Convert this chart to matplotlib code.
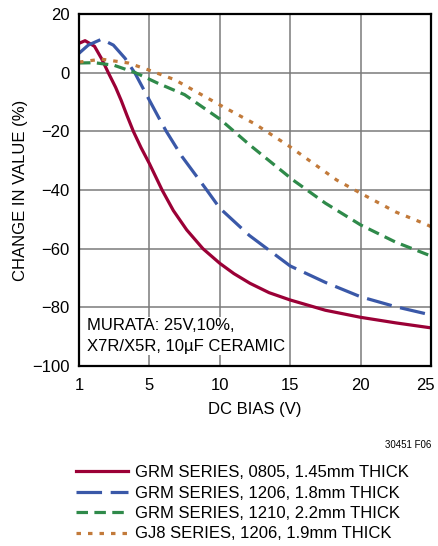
import matplotlib
matplotlib.use('Agg')
import matplotlib.pyplot as plt
import matplotlib.transforms as mtransforms

plt.rcParams['font.family'] = ['Liberation Sans Narrow', 'Liberation Sans', 'DejaVu Sans']

# values (x in volts along the axis, y in %)
red_x = [0, 0.43, 1.1, 1.6, 2.1, 2.6, 3.0, 3.4, 3.86, 4.4, 5.0, 5.9, 6.7, 7.65, 8.8, 10, 11, 12.14, 13.5, 15, 17.5, 20, 22.5, 25]
red_y = [10, 10.9, 9, 4.8, -0.2, -5, -9.5, -14.5, -20, -25.5, -31, -40, -47, -53.6, -60, -65, -68.5, -71.8, -75, -77.5, -81, -83.4, -85.3, -87]

blue_x = [0, 0.66, 1.6, 2.44, 3.27, 3.98, 4.8, 5.75, 6.2, 7.3, 9.07, 10, 12.1, 15, 17.5, 20, 22.5, 25]
blue_y = [6.6, 9.4, 11.4, 9.4, 4.9, -0.2, -7.6, -16.1, -20, -28.5, -40, -46.2, -55.5, -65.9, -71.5, -76.4, -79.8, -82.6]

green_x = [0, 1.1, 2.5, 4.0, 5.6, 7.5, 10, 12.14, 15.2, 17.5, 20, 22.5, 25]
green_y = [3.3, 3.4, 2.5, 0, -3.6, -7.5, -15.8, -24.7, -36.6, -44.5, -51.9, -57.8, -62.5]

orange_x = [0, 1.6, 3.5, 4.9, 6.8, 10, 12.5, 15, 18.3, 20, 22.5, 24.6, 25]
orange_y = [3.6, 4.6, 3.3, 1.0, -2.4, -11, -17.5, -25.3, -36.6, -41.1, -47.5, -51.6, -52.5]

labels = ['GRM SERIES, 0805, 1.45mm THICK',
          'GRM SERIES, 1206, 1.8mm THICK',
          'GRM SERIES, 1210, 2.2mm THICK',
          'GJ8 SERIES, 1206, 1.9mm THICK']

xticks = [0, 5, 10, 15, 20, 25]
xticklabels = ['1', '5', '10', '15', '20', '25']
yticks = [20, 0, -20, -40, -60, -80, -100]

fig = plt.figure(figsize=(4.38, 5.46), dpi=100)
ax = fig.add_axes([79/438, 1-366/546, 352/438, 352/546])

lw = 2.3
ax.plot(red_x, red_y, color='#9b0036', lw=lw, label=labels[0])
ax.plot(blue_x, blue_y, color='#3a58a8', lw=lw, dashes=(8, 2.7), label=labels[1])
ax.plot(green_x, green_y, color='#2f8a4a', lw=lw, dashes=(3.6, 2.0), label=labels[2])
ax.plot(orange_x, orange_y, color='#c27a3a', lw=lw, dashes=(1.4, 2.2), label=labels[3])

ax.set_xlim(0, 25)
ax.set_ylim(-100, 20)
ax.set_xticks(xticks)
ax.set_xticklabels(xticklabels)
ax.set_yticks(yticks)
ax.set_yticklabels([str(v).replace('-', '\u2212') for v in yticks])
ax.tick_params(length=0, labelsize=12)
ax.tick_params(axis='y', pad=7)
ax.tick_params(axis='x', pad=9)
ax.grid(True, color='#7a7a7a', lw=1.1)
for s in ax.spines.values():
    s.set_linewidth(1.6)
    s.set_color('black')

# last x label sits against the right edge, pull it in a little
last = ax.get_xticklabels()[-1]
last.set_transform(last.get_transform() + mtransforms.ScaledTranslation(-6/100, 0, fig.dpi_scale_trans))

ax.set_xlabel('DC BIAS (V)', fontsize=12, labelpad=6)
ax.set_ylabel('CHANGE IN VALUE (%)', fontsize=12, va='center')
ax.yaxis.set_label_coords(-58/352, 0.5)

ax.text(0.023, 0.085, 'MURATA: 25V,10%,\nX7R/X5R, 10\u00b5F CERAMIC',
        transform=ax.transAxes, fontsize=12, va='center', ha='left',
        linespacing=1.45, bbox=dict(facecolor='white', edgecolor='none', pad=1))

fig.text(431/438, 1-445/546, '30451 F06', fontsize=7, ha='right', va='center')

fig.legend(loc='upper left', bbox_to_anchor=(76/438, 1-465/546), frameon=False,
           fontsize=12, handlelength=3.1, handletextpad=0.45, labelspacing=0.33,
           borderpad=0, borderaxespad=0)

fig.savefig('out.png', dpi=100)
